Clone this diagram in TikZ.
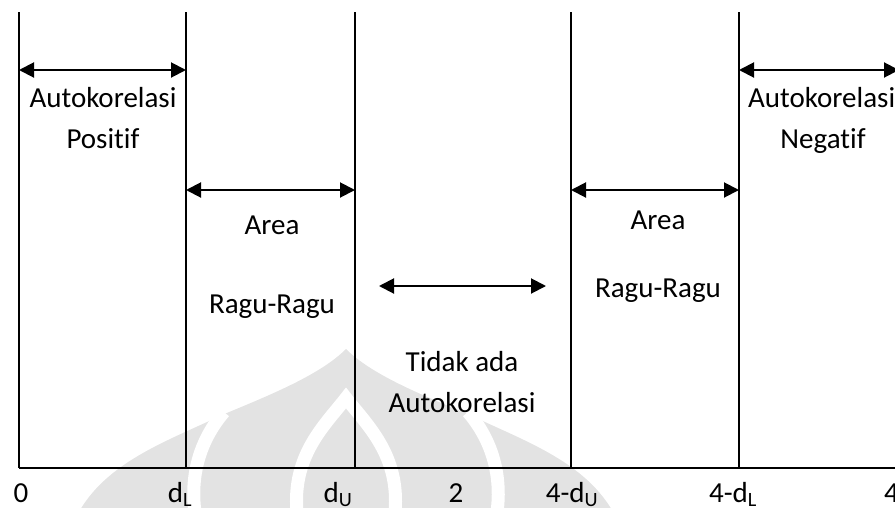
\documentclass[tikz,border=0pt]{standalone}
\usepackage{fontspec}
\setmainfont{Carlito}[Ligatures=NoCommon]
\usetikzlibrary{arrows.meta}
\begin{document}
\begin{tikzpicture}[x=1pt,y=-1pt,
  bound/.style={line width=1.8pt},
  axisline/.style={line width=2.6pt},
  span/.style={line width=2pt,{Triangle[length=15pt,width=15pt]}-{Triangle[length=15pt,width=15pt]}},
  lbl/.style={font=\fontsize{29}{34}\selectfont,inner sep=0pt,anchor=base},
  wm/.style={fill=black!11,draw=none},
  wmgap/.style={draw=white,line width=13pt}]
\useasboundingbox (0,0) rectangle (895,507);
% faint watermark
\fill[wm] (80,510) .. controls (110,460) and (170,440) .. (222,415) .. controls (270,395) and (320,375) .. (346,349) .. controls (372,375) and (422,395) .. (470,415) .. controls (522,440) and (582,460) .. (612,510) -- cycle;
\draw[wmgap] (224,412) .. controls (200,440) and (190,475) .. (195,512);
\draw[wmgap] (468,412) .. controls (492,440) and (502,475) .. (497,512);
\draw[wmgap] (297,512) .. controls (292,455) and (325,425) .. (346,398) .. controls (367,425) and (400,455) .. (395,512);
% boundary coordinates
\coordinate (t0) at (19,12);   \coordinate (b0) at (19,468);
\coordinate (t1) at (186,12);  \coordinate (b1) at (186,468);
\coordinate (t2) at (355,12);  \coordinate (b2) at (355,468);
\coordinate (t3) at (571,12);  \coordinate (b3) at (571,468);
\coordinate (t4) at (739,12);  \coordinate (b4) at (739,468);
\coordinate (bend) at (900,468);
\draw[bound] (t0) -- (b0);
\draw[bound] (t1) -- (b1);
\draw[bound] (t2) -- (b2);
\draw[bound] (t3) -- (b3);
\draw[bound] (t4) -- (b4);
\draw[axisline] (b0) -- (bend);
% arrows
\coordinate (a1l) at (19,70);   \coordinate (a1r) at (186,70);
\coordinate (a2l) at (186,190); \coordinate (a2r) at (355,190);
\coordinate (a3l) at (379,286); \coordinate (a3r) at (546,286);
\coordinate (a4l) at (571,190); \coordinate (a4r) at (739,190);
\coordinate (a5l) at (739,70);  \coordinate (a5r) at (899,70);
\draw[span] (a1l) -- (a1r);
\draw[span] (a2l) -- (a2r);
\draw[span] (a3l) -- (a3r);
\draw[span] (a4l) -- (a4r);
\draw[span] (a5l) -- (a5r);
% region labels
\node[lbl] (pos1) at (103,107) {Autokorelasi};
\node[lbl] (pos2) at (103,148) {Positif};
\node[lbl] (rr1a) at (272,234) {Area};
\node[lbl] (rr1b) at (272,313) {Ragu-Ragu};
\node[lbl] (none1) at (462,371) {Tidak ada};
\node[lbl] (none2) at (462,412) {Autokorelasi};
\node[lbl] (rr2a) at (658,229) {Area};
\node[lbl] (rr2b) at (658,297) {Ragu-Ragu};
\node[lbl,anchor=base west] (neg1) at (748,107) {Autokorelasi};
\node[lbl] (neg2) at (823,148) {Negatif};
% axis labels
\node[lbl] (x0) at (21,502) {0};
\node[lbl] (x1) at (180,502) {d\textsubscript{L}};
\node[lbl] (x2) at (338,502) {d\textsubscript{U}};
\node[lbl] (x3) at (456,502) {2};
\node[lbl] (x4) at (572,502) {4-d\textsubscript{U}};
\node[lbl] (x5) at (733,502) {4-d\textsubscript{L}};
\node[lbl,anchor=base west] (x6) at (884,502) {4};
\end{tikzpicture}
\end{document}
